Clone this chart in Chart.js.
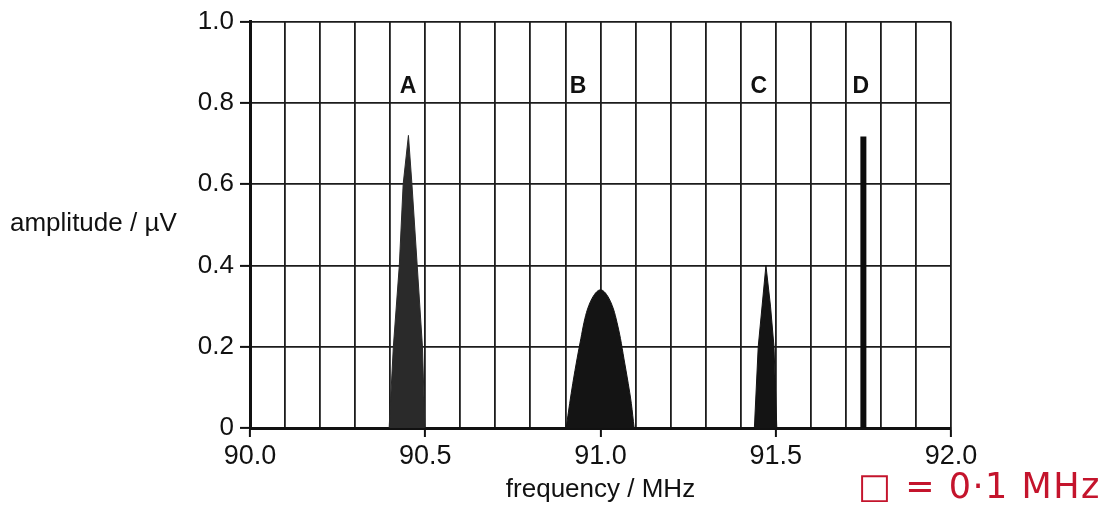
<!DOCTYPE html>
<html>
<head>
<meta charset="utf-8">
<script src="https://cdn.jsdelivr.net/npm/chart.js@4/dist/chart.umd.min.js"></script>
<style>
  html, body { margin: 0; padding: 0; background: #fff; }
  #wrap { position: relative; width: 1118px; height: 510px; }
  #note { position: absolute; left: 858px; top: 466px; color: #c4142c;
          font-family: "DejaVu Sans", sans-serif; font-size: 35px; white-space: nowrap; letter-spacing: 1.5px; }
</style>
</head>
<body>
<div id="wrap">
  <canvas id="c" width="1118" height="510"></canvas>
  <div id="note">□ = 0·1 MHz</div>
</div>
<script>
// ---- data ----
const freqA = [90.397, 90.409, 90.426, 90.437, 90.452, 90.462, 90.477, 90.492, 90.499];
const ampA  = [0, 0.2, 0.4, 0.6, 0.72, 0.6, 0.4, 0.2, 0];

const freqB = [90.902, 90.912, 90.921, 90.933, 90.944, 90.953, 90.962, 90.980, 91.0, 91.020, 91.038, 91.047, 91.057, 91.067, 91.079, 91.088, 91.096];
const ampB  = [0, 0.06, 0.11, 0.17, 0.22, 0.26, 0.29, 0.325, 0.34, 0.325, 0.29, 0.26, 0.22, 0.17, 0.11, 0.06, 0];

const freqC = [91.439, 91.450, 91.461, 91.472, 91.485, 91.495, 91.503];
const ampC  = [0, 0.2, 0.3, 0.40, 0.3, 0.2, 0];

const freqD = [91.75, 91.75];
const ampD  = [0, 0.717];

const peakLabels = ['A', 'B', 'C', 'D'];
const labelFreq  = [90.451, 90.936, 91.452, 91.743];
const labelAmp   = [0.84, 0.84, 0.84, 0.84];

const xTitle = 'frequency / MHz';
const yTitle = 'amplitude / µV';
const xMin = 90.0, xMax = 92.0, xStep = 0.1;
const yMin = 0, yMax = 1.0, yStep = 0.2;

const pts = (xs, ys) => xs.map((v, i) => ({ x: v, y: ys[i] }));
const isHalf = v => Math.abs(v * 2 - Math.round(v * 2)) < 1e-6;

const FONT = '"Liberation Sans", Arial, Helvetica, sans-serif';
Chart.defaults.font.family = FONT;
Chart.defaults.color = '#111';

const annot = {
  id: 'annot',
  afterDraw(chart) {
    const { ctx, scales: { x, y } } = chart;
    ctx.save();
    ctx.fillStyle = '#111';
    ctx.font = 'bold 23px ' + FONT;
    ctx.textAlign = 'center';
    ctx.textBaseline = 'middle';
    peakLabels.forEach((t, i) => {
      ctx.fillText(t, x.getPixelForValue(labelFreq[i]), y.getPixelForValue(labelAmp[i]));
    });
    ctx.font = '26px ' + FONT;
    ctx.textBaseline = 'alphabetic';
    ctx.textAlign = 'left';
    ctx.fillText(yTitle, 10, 231);
    ctx.textAlign = 'center';
    ctx.fillText(xTitle, (x.left + x.right) / 2, 497);
    ctx.restore();
  }
};

const peakStyle = (col) => ({
  showLine: true, fill: 'origin', backgroundColor: col, borderColor: col,
  borderWidth: 1, pointRadius: 0, tension: 0
});

new Chart(document.getElementById('c'), {
  type: 'scatter',
  data: {
    datasets: [
      Object.assign({ label: 'A', data: pts(freqA, ampA) }, peakStyle('#2a2a2a')),
      Object.assign({ label: 'B', data: pts(freqB, ampB) }, peakStyle('#141414'), { cubicInterpolationMode: 'monotone' }),
      Object.assign({ label: 'C', data: pts(freqC, ampC) }, peakStyle('#141414')),
      { label: 'D', data: pts(freqD, ampD), showLine: true, fill: false,
        borderColor: '#0c0c0c', borderWidth: 6, borderCapStyle: 'butt', pointRadius: 0 }
    ]
  },
  options: {
    responsive: false,
    animation: false,
    layout: { padding: { left: 0, right: 167, top: 19, bottom: 0 } },
    plugins: { legend: { display: false }, tooltip: { enabled: false } },
    scales: {
      x: {
        type: 'linear', min: xMin, max: xMax,
        afterFit(s) { s.height = 82; },
        ticks: {
          stepSize: xStep, autoSkip: false, maxRotation: 0,
          font: { size: 27 }, color: '#111', padding: 3,
          callback: v => isHalf(v) ? v.toFixed(1) : ''
        },
        grid: {
          color: '#1c1c1c', lineWidth: 1.8, tickLength: 9, tickWidth: 2,
          tickColor: c => (c.tick && isHalf(c.tick.value)) ? '#111' : 'rgba(0,0,0,0)'
        },
        border: { color: '#111', width: 3 }
      },
      y: {
        type: 'linear', min: yMin, max: yMax,
        afterFit(s) { s.width = 250; },
        ticks: {
          stepSize: yStep, font: { size: 26 }, color: '#111', padding: 6,
          callback: v => v === 0 ? '0' : v.toFixed(1)
        },
        grid: { color: '#1c1c1c', lineWidth: 1.8, tickLength: 10, tickWidth: 2, tickColor: '#111' },
        border: { color: '#111', width: 3 }
      }
    }
  },
  plugins: [annot]
});
</script>
</body>
</html>
